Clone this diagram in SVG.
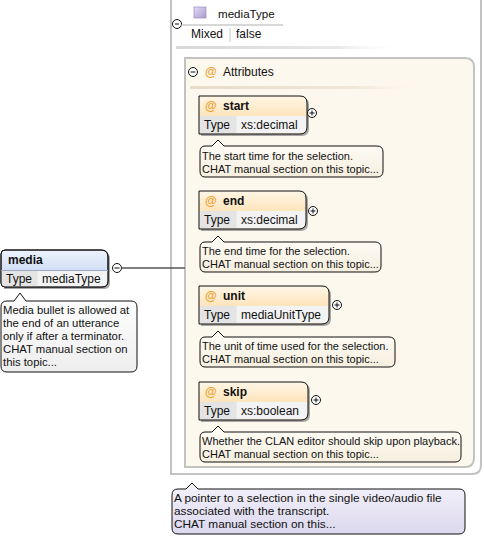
<svg xmlns="http://www.w3.org/2000/svg" width="484" height="538" viewBox="0 0 484 538">
<defs>
<linearGradient id="gBlue" x1="0" y1="0" x2="0" y2="1"><stop offset="0" stop-color="#eef3fc"/><stop offset="1" stop-color="#b9cdef"/></linearGradient>
<linearGradient id="gOrange" x1="0" y1="0" x2="0" y2="1"><stop offset="0" stop-color="#fff6e6"/><stop offset="1" stop-color="#fcd596"/></linearGradient>
<linearGradient id="gLav" x1="0" y1="0" x2="0" y2="1"><stop offset="0" stop-color="#f4f2fb"/><stop offset="1" stop-color="#dcd8ee"/></linearGradient>
<linearGradient id="gWhite" x1="0" y1="0" x2="0" y2="1"><stop offset="0" stop-color="#ffffff"/><stop offset="1" stop-color="#eeeeee"/></linearGradient>
<linearGradient id="gCream" x1="0" y1="0" x2="0" y2="1"><stop offset="0" stop-color="#fffdf8"/><stop offset="1" stop-color="#f6efdf"/></linearGradient>
<linearGradient id="gSq" x1="0" y1="0" x2="1" y2="1"><stop offset="0" stop-color="#e4dcf4"/><stop offset="1" stop-color="#a99ad0"/></linearGradient>
<linearGradient id="gFade" x1="0" y1="0" x2="1" y2="0"><stop offset="0" stop-color="#d8d8d8"/><stop offset="0.7" stop-color="#e8e8e8"/><stop offset="1" stop-color="#ffffff" stop-opacity="0"/></linearGradient>
<linearGradient id="gFade2" x1="0" y1="0" x2="1" y2="0"><stop offset="0" stop-color="#e6dcc8"/><stop offset="0.7" stop-color="#efe6d6"/><stop offset="1" stop-color="#fdf8ee" stop-opacity="0"/></linearGradient>
</defs>
<style>
text{font-family:"Liberation Sans",Arial,sans-serif;font-size:11px;fill:#111}
.t12{font-size:12px}
.b{font-weight:bold;font-size:12px}
.at{fill:#f0a030;font-weight:bold;font-size:12px}
.mb{font-size:11.3px}
.fb{font-size:11.8px}
.box{stroke:#111;stroke-width:1}
.sh{fill:#a8a8a8}
.tc{fill:#e4e4e4}
.vc{fill:#f3f3f3}
.bub{stroke:#111;stroke-width:1}
.pm{fill:#fff;stroke:#111;stroke-width:1}
.pl{stroke:#111;stroke-width:1}
</style>

<!-- outer mediaType frame -->
<g id="mediaType">
<path d="M171,-4 H481 V465 Q481,474 472,474 H171 Z" fill="#ffffff" stroke="#c2c2c2" stroke-width="2"/>
<circle class="pm" cx="177" cy="24" r="4.5"/>
<line class="pl" x1="175" y1="24" x2="179" y2="24"/>
<line x1="181" y1="25" x2="283" y2="25" stroke="#b0b0b0" stroke-width="1"/>
<rect x="194" y="7" width="12" height="11" fill="url(#gSq)" stroke="#8c7fb8" stroke-width="0.6"/>
<text x="218" y="18" style="font-size:11.6px">mediaType</text>
<text x="191" y="38" class="t12">Mixed</text>
<line x1="230" y1="28" x2="230" y2="42" stroke="#c8c8c8"/>
<text x="236" y="38" class="t12">false</text>
<rect x="176" y="46" width="230" height="3" fill="url(#gFade)"/>
</g>

<g id="attributes">
<path d="M185,58 H465 Q474,58 474,67 V458 Q474,467 465,467 H185 Z" fill="#fdf8ee" stroke="#c2c2c2" stroke-width="2"/>
<circle class="pm" cx="193" cy="72" r="4.5"/>
<line class="pl" x1="190.5" y1="72" x2="195.5" y2="72"/>
<text x="205" y="76" class="at">@</text>
<text x="223" y="76" class="t12">Attributes</text>
<rect x="190" y="86" width="235" height="3" fill="url(#gFade2)"/>
</g>

<!-- media element -->
<g id="media">
<path d="M4,252 H103 Q110,252 110,259 V283 Q110,289 104,289 H4 Z" class="sh"/>
<path d="M5,250 H101 Q108,250 108,257 V281 Q108,287 102,287 H5 Q1,287 1,283 V254 Q1,250 5,250 Z" fill="url(#gBlue)" class="box"/>
<path d="M1.5,271 H107.5 V281 Q107.5,286.5 102,286.5 H5 Q1.5,286.5 1.5,283 Z" class="vc"/>
<rect x="1.5" y="271" width="36" height="15.5" class="tc"/>
<path d="M5,250 H101 Q108,250 108,257 V281 Q108,287 102,287 H5 Q1,287 1,283 V254 Q1,250 5,250 Z" fill="none" class="box"/>
<line x1="1" y1="270.5" x2="108" y2="270.5" stroke="#9aaac8"/>
<text x="8" y="264" class="b">media</text>
<text x="6" y="283" class="t12">Type</text>
<text x="42" y="283" class="t12">mediaType</text>
<circle class="pm" cx="117" cy="268" r="4.5"/>
<line class="pl" x1="114.5" y1="268" x2="119.5" y2="268"/>
<path d="M7,301 H14 L20,293 L26,301 H131 Q137,301 137,307 V366 Q137,372 131,372 H7 Q1,372 1,366 V307 Q1,301 7,301 Z" fill="url(#gWhite)" class="bub"/>
<text x="3" y="314" class="mb">Media bullet is allowed at</text>
<text x="3" y="327" class="mb">the end of an utterance</text>
<text x="3" y="340" class="mb">only if after a terminator.</text>
<text x="3" y="353" class="mb">CHAT manual section on</text>
<text x="3" y="366" class="mb">this topic...</text>
</g>

<g id="connectors">
<line x1="121.5" y1="268" x2="185" y2="268" stroke="#555" stroke-width="1.5"/>
</g>

<!-- start -->
<g id="attr-start">
<path d="M201,98 H302 Q309,98 309,105 V129 Q309,136 302,136 H201 Z" class="sh"/>
<path d="M199,96 H300 Q307,96 307,103 V127 Q307,134 300,134 H199 Z" fill="url(#gOrange)"/>
<path d="M199.5,116 H306.5 V127 Q306.5,133.5 300,133.5 H199.5 Z" class="vc"/>
<rect x="199.5" y="116" width="37" height="17.5" class="tc"/>
<path d="M199,96 H300 Q307,96 307,103 V127 Q307,134 300,134 H199 Z" fill="none" class="box"/>
<text x="205" y="110" class="at">@</text>
<text x="223" y="110" class="b">start</text>
<text x="204" y="129" class="t12">Type</text>
<text x="241" y="129" class="t12">xs:decimal</text>
<circle class="pm" cx="312" cy="113" r="4.5"/>
<line class="pl" x1="309.5" y1="113" x2="314.5" y2="113"/><line class="pl" x1="312" y1="110.5" x2="312" y2="115.5"/>
<path d="M205,146 H212 L218,140 L224,146 H377 Q383,146 383,152 V171 Q383,177 377,177 H205 Q200,177 200,171 V152 Q200,146 205,146 Z" fill="url(#gCream)" class="bub"/>
<text x="202" y="160">The start time for the selection.</text>
<text x="202" y="173">CHAT manual section on this topic...</text>
</g>

<!-- end -->
<g id="attr-end">
<path d="M201,193 H301 Q308,193 308,200 V224 Q308,231 301,231 H201 Z" class="sh"/>
<path d="M199,191 H299 Q306,191 306,198 V222 Q306,229 299,229 H199 Z" fill="url(#gOrange)"/>
<path d="M199.5,211 H305.5 V222 Q305.5,228.5 299,228.5 H199.5 Z" class="vc"/>
<rect x="199.5" y="211" width="37" height="17.5" class="tc"/>
<path d="M199,191 H299 Q306,191 306,198 V222 Q306,229 299,229 H199 Z" fill="none" class="box"/>
<text x="205" y="205" class="at">@</text>
<text x="223" y="205" class="b">end</text>
<text x="204" y="224" class="t12">Type</text>
<text x="241" y="224" class="t12">xs:decimal</text>
<circle class="pm" cx="313" cy="211" r="4.5"/>
<line class="pl" x1="310.5" y1="211" x2="315.5" y2="211"/><line class="pl" x1="313" y1="208.5" x2="313" y2="213.5"/>
<path d="M205,242 H212 L218,236 L224,242 H375 Q381,242 381,248 V266 Q381,272 375,272 H205 Q200,272 200,266 V248 Q200,242 205,242 Z" fill="url(#gCream)" class="bub"/>
<text x="202" y="255">The end time for the selection.</text>
<text x="202" y="268">CHAT manual section on this topic...</text>
</g>

<!-- unit -->
<g id="attr-unit">
<path d="M201,288 H324 Q331,288 331,295 V319 Q331,326 324,326 H201 Z" class="sh"/>
<path d="M199,286 H322 Q329,286 329,293 V317 Q329,324 322,324 H199 Z" fill="url(#gOrange)"/>
<path d="M199.5,306 H328.5 V317 Q328.5,323.5 322,323.5 H199.5 Z" class="vc"/>
<rect x="199.5" y="306" width="37" height="17.5" class="tc"/>
<path d="M199,286 H322 Q329,286 329,293 V317 Q329,324 322,324 H199 Z" fill="none" class="box"/>
<text x="205" y="300" class="at">@</text>
<text x="223" y="300" class="b">unit</text>
<text x="204" y="319" class="t12">Type</text>
<text x="241" y="319" class="t12">mediaUnitType</text>
<circle class="pm" cx="337" cy="305" r="4.5"/>
<line class="pl" x1="334.5" y1="305" x2="339.5" y2="305"/><line class="pl" x1="337" y1="302.5" x2="337" y2="307.5"/>
<path d="M205,337 H212 L218,331 L224,337 H389 Q395,337 395,343 V361 Q395,367 389,367 H205 Q200,367 200,361 V343 Q200,337 205,337 Z" fill="url(#gCream)" class="bub"/>
<text x="202" y="350">The unit of time used for the selection.</text>
<text x="202" y="363">CHAT manual section on this topic...</text>
</g>

<!-- skip -->
<g id="attr-skip">
<path d="M201,384 H303 Q310,384 310,391 V415 Q310,422 303,422 H201 Z" class="sh"/>
<path d="M199,382 H301 Q308,382 308,389 V413 Q308,420 301,420 H199 Z" fill="url(#gOrange)"/>
<path d="M199.5,402 H307.5 V413 Q307.5,419.5 301,419.5 H199.5 Z" class="vc"/>
<rect x="199.5" y="402" width="37" height="17.5" class="tc"/>
<path d="M199,382 H301 Q308,382 308,389 V413 Q308,420 301,420 H199 Z" fill="none" class="box"/>
<text x="205" y="396" class="at">@</text>
<text x="223" y="396" class="b">skip</text>
<text x="204" y="415" class="t12">Type</text>
<text x="241" y="415" class="t12">xs:boolean</text>
<circle class="pm" cx="316" cy="400" r="4.5"/>
<line class="pl" x1="313.5" y1="400" x2="318.5" y2="400"/><line class="pl" x1="316" y1="397.5" x2="316" y2="402.5"/>
<path d="M205,432 H212 L218,426 L224,432 H455 Q461,432 461,438 V456 Q461,462 455,462 H205 Q200,462 200,456 V438 Q200,432 205,432 Z" fill="url(#gCream)" class="bub"/>
<text x="202" y="445">Whether the CLAN editor should skip upon playback.</text>
<text x="202" y="458">CHAT manual section on this topic...</text>
</g>

<!-- mediaType doc -->
<g id="mediaType-doc">
<path d="M178,489 H186 L192,483 L198,489 H459 Q465,489 465,495 V528 Q465,534 459,534 H178 Q172,534 172,528 V495 Q172,489 178,489 Z" fill="url(#gLav)" class="bub"/>
<text x="174" y="502" class="fb">A pointer to a selection in the single video/audio file</text>
<text x="174" y="515" class="fb">associated with the transcript.</text>
<text x="174" y="528" class="fb">CHAT manual section on this...</text>
</g>
</svg>
